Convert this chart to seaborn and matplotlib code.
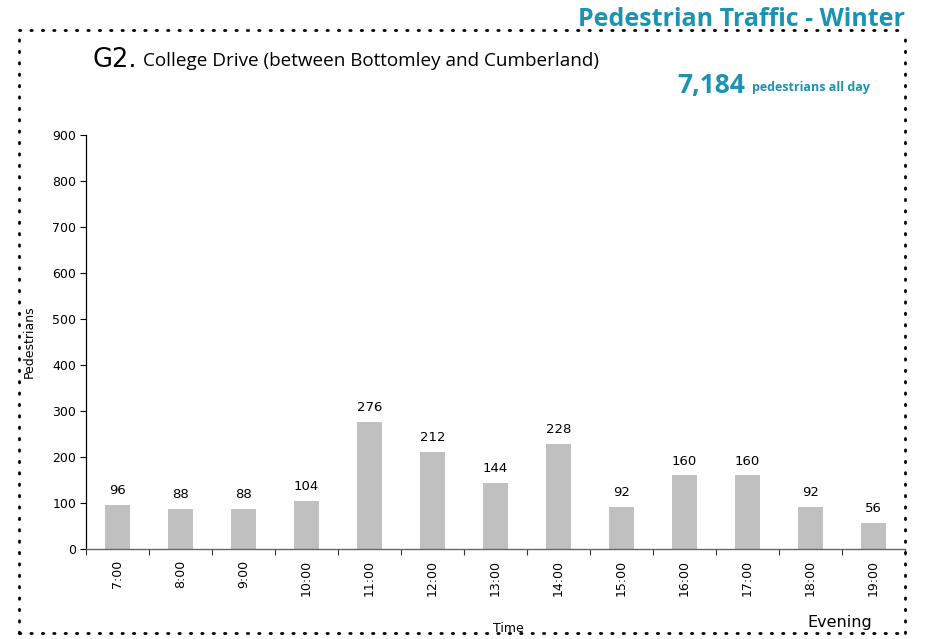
import matplotlib
matplotlib.use("Agg")
import matplotlib.pyplot as plt
import seaborn as sns
import pandas as pd
import numpy as np
from matplotlib.lines import Line2D

times = ["7:00", "8:00", "9:00", "10:00", "11:00", "12:00", "13:00",
         "14:00", "15:00", "16:00", "17:00", "18:00", "19:00"]
pedestrians = [96, 88, 88, 104, 276, 212, 144, 228, 92, 160, 160, 92, 56]
total_label = "7,184"

TEAL = "#1b93b3"
BAR = "#c0c0c0"

sns.set_theme(style="white")
plt.rcParams['font.family'] = ['DejaVu Sans']
plt.rcParams['text.color'] = 'black'
plt.rcParams['axes.labelcolor'] = 'black'
plt.rcParams['xtick.color'] = 'black'
plt.rcParams['ytick.color'] = 'black'

df = pd.DataFrame({"time": times, "pedestrians": pedestrians})

fig = plt.figure(figsize=(9.26, 6.39), dpi=100)
ax = fig.add_axes([0.0929, 0.1408, 0.8844, 0.6479])

sns.barplot(data=df, x="time", y="pedestrians", color=BAR, width=0.41,
            saturation=1, linewidth=0, ax=ax)

ax.set_xlim(-0.5, len(times) - 0.5)
ax.set_ylim(0, 900)
ax.set_yticks(np.arange(0, 901, 100))
ax.tick_params(axis="y", labelsize=9, length=4, width=0.8, color="black",
               left=True, pad=3)
ax.tick_params(axis="x", which="major", length=0, labelsize=9, pad=8)
ax.set_xticks(np.arange(-0.5, len(times), 1.0), minor=True)
ax.tick_params(axis="x", which="minor", length=4, width=0.8, color="#333333",
               bottom=True)
ax.set_xticks(range(len(times)))
ax.set_xticklabels(times, rotation=90)

for s in ["top", "right"]:
    ax.spines[s].set_visible(False)
ax.spines["left"].set_color("black")
ax.spines["left"].set_linewidth(0.9)
ax.spines["bottom"].set_color("#666666")
ax.spines["bottom"].set_linewidth(1.0)

for i, v in enumerate(pedestrians):
    ax.text(i, v + 17, str(v), ha="center", va="bottom", fontsize=9.5)

ax.set_xlabel("")
ax.set_ylabel("Pedestrians", fontsize=9)
ax.yaxis.set_label_coords(-0.062, 0.5)
fig.text(508 / 926, 1 - 629 / 639, "Time", ha="center", va="center", fontsize=9)
fig.text(872 / 926, 1 - 622 / 639, "Evening", ha="right", va="center",
         fontsize=11.5)

# dotted frame
dot = dict(color="black", linestyle=(0, (0.5, 3.6)), linewidth=2.0,
           dash_capstyle="round", transform=fig.transFigure)
x0, x1 = 19 / 926, 905 / 926
y0, y1 = 1 - 633 / 639, 1 - 30 / 639
fig.add_artist(Line2D([x0, x1], [y1, y1], **dot))
fig.add_artist(Line2D([x0, x1], [y0, y0], **dot))
fig.add_artist(Line2D([x0, x0], [y0, y1], **dot))
fig.add_artist(Line2D([x1, x1], [y0, y1], **dot))

# headings
fig.text(905 / 926, 1 - 19 / 639, "Pedestrian Traffic - Winter", ha="right",
         va="center", fontsize=18, fontweight="bold", color=TEAL,
         family="Open Sans")
fig.text(92 / 926, 1 - 60 / 639, "G2.", ha="left", va="center", fontsize=18.5)
fig.text(143 / 926, 1 - 61 / 639,
         "College Drive (between Bottomley and Cumberland)",
         ha="left", va="center", fontsize=13.6, family="Open Sans")
fig.text(745 / 926, 1 - 85 / 639, total_label, ha="right", va="center",
         fontsize=19, fontweight="bold", color=TEAL, family="Open Sans")
fig.text(752 / 926, 1 - 88 / 639, "pedestrians all day", ha="left",
         va="center", fontsize=9, fontweight="bold", color=TEAL,
         family="Open Sans")

fig.savefig("out.png", dpi=100, facecolor="white")
